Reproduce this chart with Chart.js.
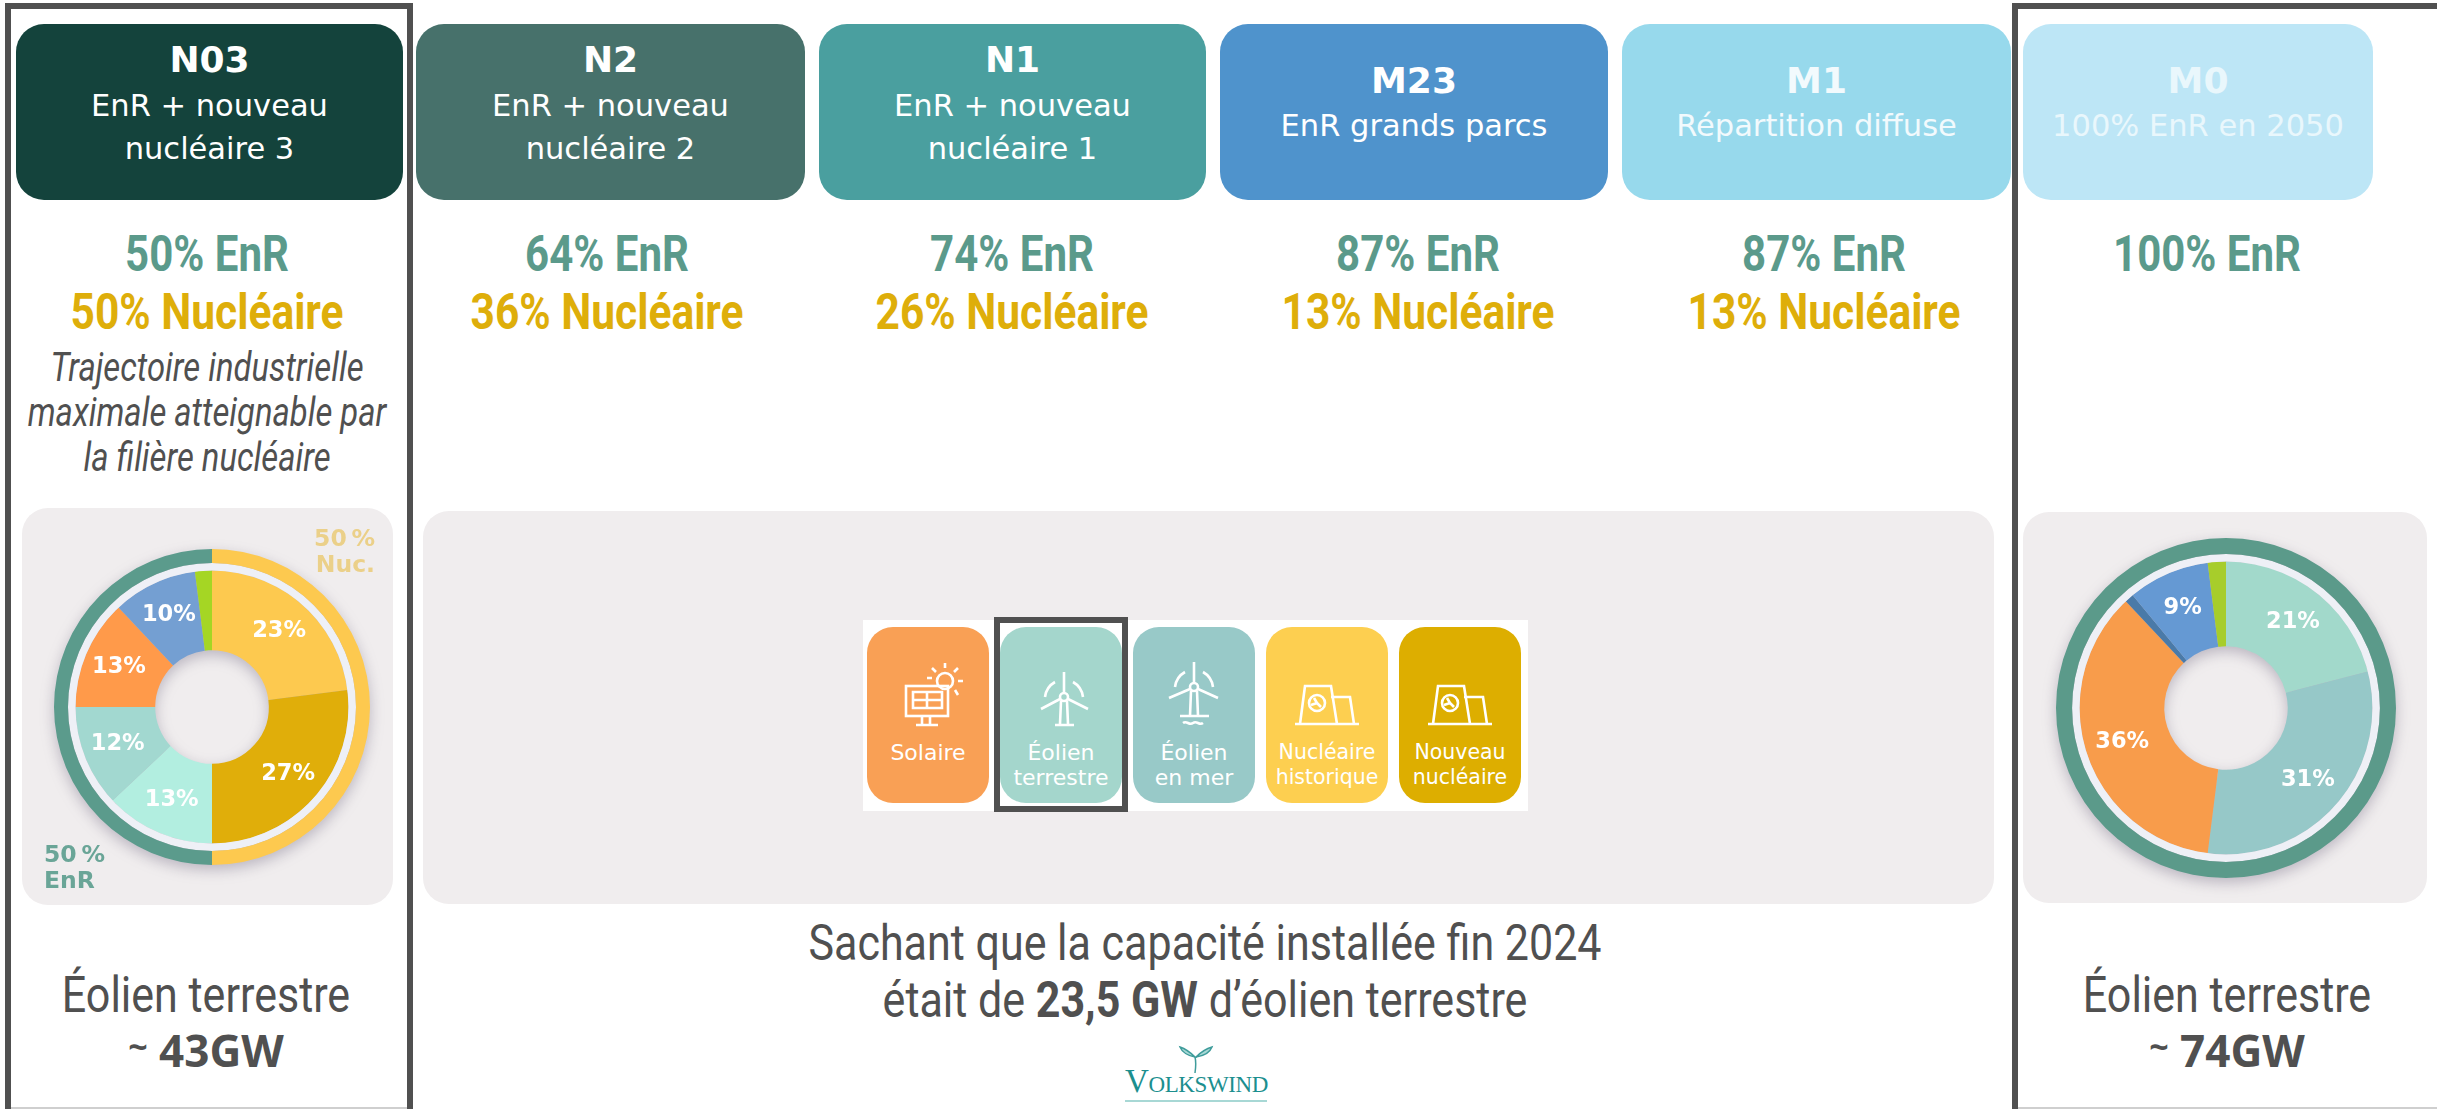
<!DOCTYPE html>
<html lang="fr">
<head>
<meta charset="utf-8">
<title>Scénarios RTE</title>
<script src="https://cdn.jsdelivr.net/npm/chart.js@4"></script>
<style>
    html, body { margin: 0; padding: 0; background: #fff; }
    #page { position: relative; width: 2437px; height: 1109px; overflow: hidden; }
    #page > * { position: absolute; }
    .frame { border: 6px solid #505050; box-sizing: border-box; }
    .panel { background: #f0edee; border-radius: 26px; }
    .head { top: 24px; height: 176px; border-radius: 28px; color: #fff; text-align: center; font-family: "DejaVu Sans"; font-size: 30.5px; }
    .head div { position: absolute; left: 0; right: 0; line-height: 44px; white-space: nowrap; }
    .head .code { top: 14px; font-size: 36px; font-weight: bold; }
    .head .l1 { top: 60px; }
    .head .l2 { top: 103px; }
    .cond { font-family: Roboto; white-space: nowrap; line-height: 1; }
    .pct { font-size: 50px; font-weight: 700; }
    .enr { color: #5b9a8b; }
    .nuc { color: #deae0a; }
    .note { font-size: 40px; font-style: italic; font-weight: 400; color: #505050; }
    .txt { font-size: 50px; font-weight: 400; color: #505050; }
    .gw { font-family: "Open Sans"; font-size: 44px; font-weight: 700; color: #505050; white-space: nowrap; line-height: 1; }
    .share { font-family: "DejaVu Sans"; font-size: 23.5px; font-weight: bold; line-height: 26px; }
    .tile { top: 627px; height: 176px; width: 122px; border-radius: 26px; color: #fff; text-align: center; font-family: "DejaVu Sans"; font-size: 22px; line-height: 25px; }
    .tile svg { position: absolute; left: 0; top: 0; }
    .tile span { position: absolute; left: -6px; right: -6px; top: 113px; white-space: nowrap; }
</style>
</head>
<body>
<div id="page"></div>
<script>
// Scenario columns
const scenarioCodes = ['N03', 'N2', 'N1', 'M23', 'M1', 'M0'];
const scenarioLine1 = ['EnR + nouveau', 'EnR + nouveau', 'EnR + nouveau', 'EnR grands parcs', 'Répartition diffuse', '100% EnR en 2050'];
const scenarioLine2 = ['nucléaire 3', 'nucléaire 2', 'nucléaire 1', '', '', ''];
const enrLabels = ['50% EnR', '64% EnR', '74% EnR', '87% EnR', '87% EnR', '100% EnR'];
const nucLabels = ['50% Nucléaire', '36% Nucléaire', '26% Nucléaire', '13% Nucléaire', '13% Nucléaire', ''];

// Doughnut N03
const n03Labels = ['Nucléaire historique', 'Nouveau nucléaire', 'Éolien terrestre', 'Éolien en mer', 'Solaire', 'Hydraulique', 'Bioénergies'];
const n03Values = [23, 27, 13, 12, 13, 10, 2];
const n03Colors = ['#fdc94f', '#e0ae0a', '#b2eee0', '#a2d8d0', '#ff9a4a', '#749fd2', '#a5d624'];
const n03Ring = [50, 50];
const n03RingColors = ['#fdc94f', '#5b9b8c'];

// Doughnut M0
const m0Labels = ['Éolien terrestre', 'Éolien en mer', 'Solaire', 'Autre', 'Hydraulique', 'Bioénergies'];
const m0Values = [21, 31, 36, 1, 9, 2];
const m0Colors = ['#a2d9cb', '#96c8c8', '#f89c4b', '#4a7aa8', '#6599d3', '#a7cd2b'];
const m0Ring = [100];
const m0RingColors = ['#5b9a8a'];

const page = document.getElementById('page');

const add = (css, cls, html = '') => {
    const el = document.createElement('div');
    if (cls) el.className = cls;
    el.style.cssText = css;
    el.innerHTML = html;
    page.appendChild(el);
    return el;
};

// text centred on cx, cy, squeezed horizontally because Roboto Condensed is not installed
const centred = (cx, cy, squeeze, cls, html) =>
    add(`left:${cx}px;top:${cy}px;transform:translate(-50%,-50%) scaleX(${squeeze});`, cls, html);

// Frames
add('left:5px;top:3px;width:408px;height:1110px;', 'frame');
add('left:2012px;top:3px;width:440px;height:1110px;', 'frame');
add('left:11px;top:1107px;width:396px;height:2px;background:#cfcfcf;');
add('left:2018px;top:1107px;width:419px;height:2px;background:#cfcfcf;');

// Headers
const headLeft = [16, 416, 819, 1220, 1622, 2023];
const headWidth = [387, 389, 387, 388, 389, 350];
const headColor = ['#14433c', '#47716b', '#4a9f9f', '#4f93cc', '#97d9ec', '#bde6f6'];
const headText = ['#fff', '#fff', '#fff', '#fff', '#f2fafd', '#e9f7fc'];
scenarioCodes.forEach((code, i) => {
    // one line scenarios sit lower in their box
    const codeTop = scenarioLine2[i] ? '' : 'top:35px;';
    const l1Top = scenarioLine2[i] ? '' : 'top:80px;';
    add(`left:${headLeft[i]}px;width:${headWidth[i]}px;background:${headColor[i]};color:${headText[i]};`, 'head',
        `<div class="code" style="${codeTop}">${code}</div><div class="l1" style="${l1Top}">${scenarioLine1[i]}</div><div class="l2">${scenarioLine2[i]}</div>`);
});

// Shares
const pctCentre = [207, 607, 1012, 1418, 1824, 2207];
enrLabels.forEach((t, i) => centred(pctCentre[i], 254, 0.84, 'cond pct enr', t));
nucLabels.forEach((t, i) => { if (t) centred(pctCentre[i], 312, 0.85, 'cond pct nuc', t); });

centred(207, 368, 0.82, 'cond note', 'Trajectoire industrielle');
centred(207, 413, 0.82, 'cond note', 'maximale atteignable par');
centred(207, 458, 0.82, 'cond note', 'la filière nucléaire');

// Panels
add('left:22px;top:508px;width:371px;height:397px;', 'panel');
add('left:423px;top:511px;width:1571px;height:393px;', 'panel');
add('left:2023px;top:512px;width:404px;height:391px;', 'panel');

// Legend
add('left:863px;top:620px;width:665px;height:191px;background:#fff;');
const icons = {
    sun: '<rect x="39" y="59" width="42" height="30"/><path d="M46 65h29v16H46zM60 65v16M46 73h29M55 89v9M63 89v9M49 98h22"/><circle cx="78" cy="54" r="8"/><path d="M78 41v-5M87 45l4-4M91 54h5M88 63l3 5M69 45l-4-4M65 51h-5"/>',
    wind: '<path d="M61 74L60 97M67 74L68 97M55 98h19M64 66V45M60 72L41 82M68 72L88 82"/><circle cx="64" cy="70" r="4"/><path d="M45 70a20 20 0 0 1 10-15M83 70a20 20 0 0 0-10-15"/>',
    sea: '<path d="M58 64L57 89M64 64L65 89M47 89h29M50 96c4-3 6 3 10 0s6 3 10 0M61 56V35M57 62L36 71M65 62L85 71"/><circle cx="61" cy="60" r="4"/><path d="M42 60a20 20 0 0 1 10-15M80 60a20 20 0 0 0-10-15"/>',
    plant: '<path d="M34 97L39 59h26l6 38M65 70h19l4 27M29 97h64"/><circle cx="51" cy="76" r="8"/><path d="M51 76l-3-5M51 76l4 4M51 76l-6 2"/>'
};
const tileLeft = [867, 1000, 1133, 1266, 1399];
const tileColor = ['#f9a055', '#a4d6cc', '#98c9c8', '#fdcf50', '#ddae00'];
const tileIcon = ['sun', 'wind', 'sea', 'plant', 'plant'];
const tileText = ['Solaire', 'Éolien<br>terrestre', 'Éolien<br>en mer', 'Nucléaire<br>historique', 'Nouveau<br>nucléaire'];
const tileFont = [22, 22, 22, 20.5, 20.5];
tileText.forEach((t, i) => {
    add(`left:${tileLeft[i]}px;background:${tileColor[i]};font-size:${tileFont[i]}px;`, 'tile',
        `<svg width="122" height="110" fill="none" stroke="#fff" stroke-width="2.6">${icons[tileIcon[i]]}</svg><span>${t}</span>`);
});
add('left:994px;top:617px;width:134px;height:195px;border:6px solid #505050;box-sizing:border-box;');

// Captions
centred(1205, 943, 0.86, 'cond txt', 'Sachant que la capacité installée fin 2024');
centred(1205, 1000, 0.86, 'cond txt', 'était de <b style="font-weight:700">23,5 GW</b> d’éolien terrestre');
centred(206, 995, 0.86, 'cond txt', 'Éolien terrestre');
centred(2227, 995, 0.86, 'cond txt', 'Éolien terrestre');
add('left:206px;top:1050px;transform:translate(-50%,-50%);', 'gw', '<span style="font-size:34px;vertical-align:8px">~</span> 43GW');
add('left:2227px;top:1050px;transform:translate(-50%,-50%);', 'gw', '<span style="font-size:34px;vertical-align:8px">~</span> 74GW');

// Logo
add('left:1125px;top:1044px;', '', '<svg width="142" height="30" fill="#a8d8d5" stroke="#3f9c9b" stroke-width="1.5"><path d="M70 29c1-7 1-12 0-16M70 13C66 9 61 5 55 3c2 5 8 9 15 10zM71 13c4-4 9-8 16-10-2 5-8 9-16 10z"/></svg>');
add('left:1125px;top:1067px;width:142px;text-align:center;font-family:"Liberation Serif";color:#1c8f8f;line-height:28px;white-space:nowrap;letter-spacing:-0.4px;',
    '', '<span style="font-size:33px">V</span><span style="font-size:23px">OLKSWIND</span>');
add('left:1125px;top:1100px;width:142px;height:2px;background:#a8d8d5;');

// Value labels on the slices
const sliceLabels = {
    id: 'sliceLabels',
    afterDatasetsDraw(chart) {
        const { ctx } = chart;
        const last = chart.data.datasets.length - 1;
        const values = chart.data.datasets[last].data;
        chart.getDatasetMeta(last).data.forEach((arc, i) => {
            if (values[i] < 5) return;
            const mid = (arc.startAngle + arc.endAngle) / 2;
            const r = arc.innerRadius + 0.56 * (arc.outerRadius - arc.innerRadius);
            ctx.save();
            ctx.font = 'bold 22.5px "DejaVu Sans"';
            ctx.fillStyle = '#fff';
            ctx.textAlign = 'center';
            ctx.textBaseline = 'middle';
            ctx.fillText(values[i] + '%', arc.x + Math.cos(mid) * r, arc.y + Math.sin(mid) * r);
            ctx.restore();
        });
    }
};

const spacerColor = '#eef0f6';

const makeDoughnut = (cx, cy, radius, cutout, weights, labels, ring, ringColors, values, colors) => {
    const canvas = document.createElement('canvas');
    canvas.width = 2 * radius + 40;
    canvas.height = 2 * radius + 40;
    canvas.style.cssText = `left:${cx - radius - 20}px;top:${cy - radius - 20}px;filter:drop-shadow(0 5px 7px rgba(90,80,110,.35));`;
    page.appendChild(canvas);
    new Chart(canvas, {
        type: 'doughnut',
        data: {
            labels: labels,
            datasets: [
                { data: ring, backgroundColor: ringColors, borderWidth: 0, weight: weights[0] },
                { data: [100], backgroundColor: [spacerColor], borderWidth: 0, weight: weights[1] },
                { data: values, backgroundColor: colors, borderWidth: 0, weight: weights[2] }
            ]
        },
        options: {
            responsive: false,
            animation: false,
            radius: radius,
            cutout: cutout,
            plugins: { legend: { display: false }, tooltip: { enabled: false } }
        },
        plugins: [sliceLabels]
    });
};

makeDoughnut(212, 707, 158, 64, [13, 7, 74], n03Labels, n03Ring, n03RingColors, n03Values, n03Colors);
makeDoughnut(2226, 708, 170, 69, [15, 7, 79], m0Labels, m0Ring, m0RingColors, m0Values, m0Colors);

// Ring captions
add('left:300px;top:525px;width:75px;text-align:right;color:#ebd089;', 'share', '50\u2009%<br>Nuc.');
add('left:44px;top:841px;color:#6aa597;', 'share', '50\u2009%<br>EnR');
</script>
</body>
</html>
